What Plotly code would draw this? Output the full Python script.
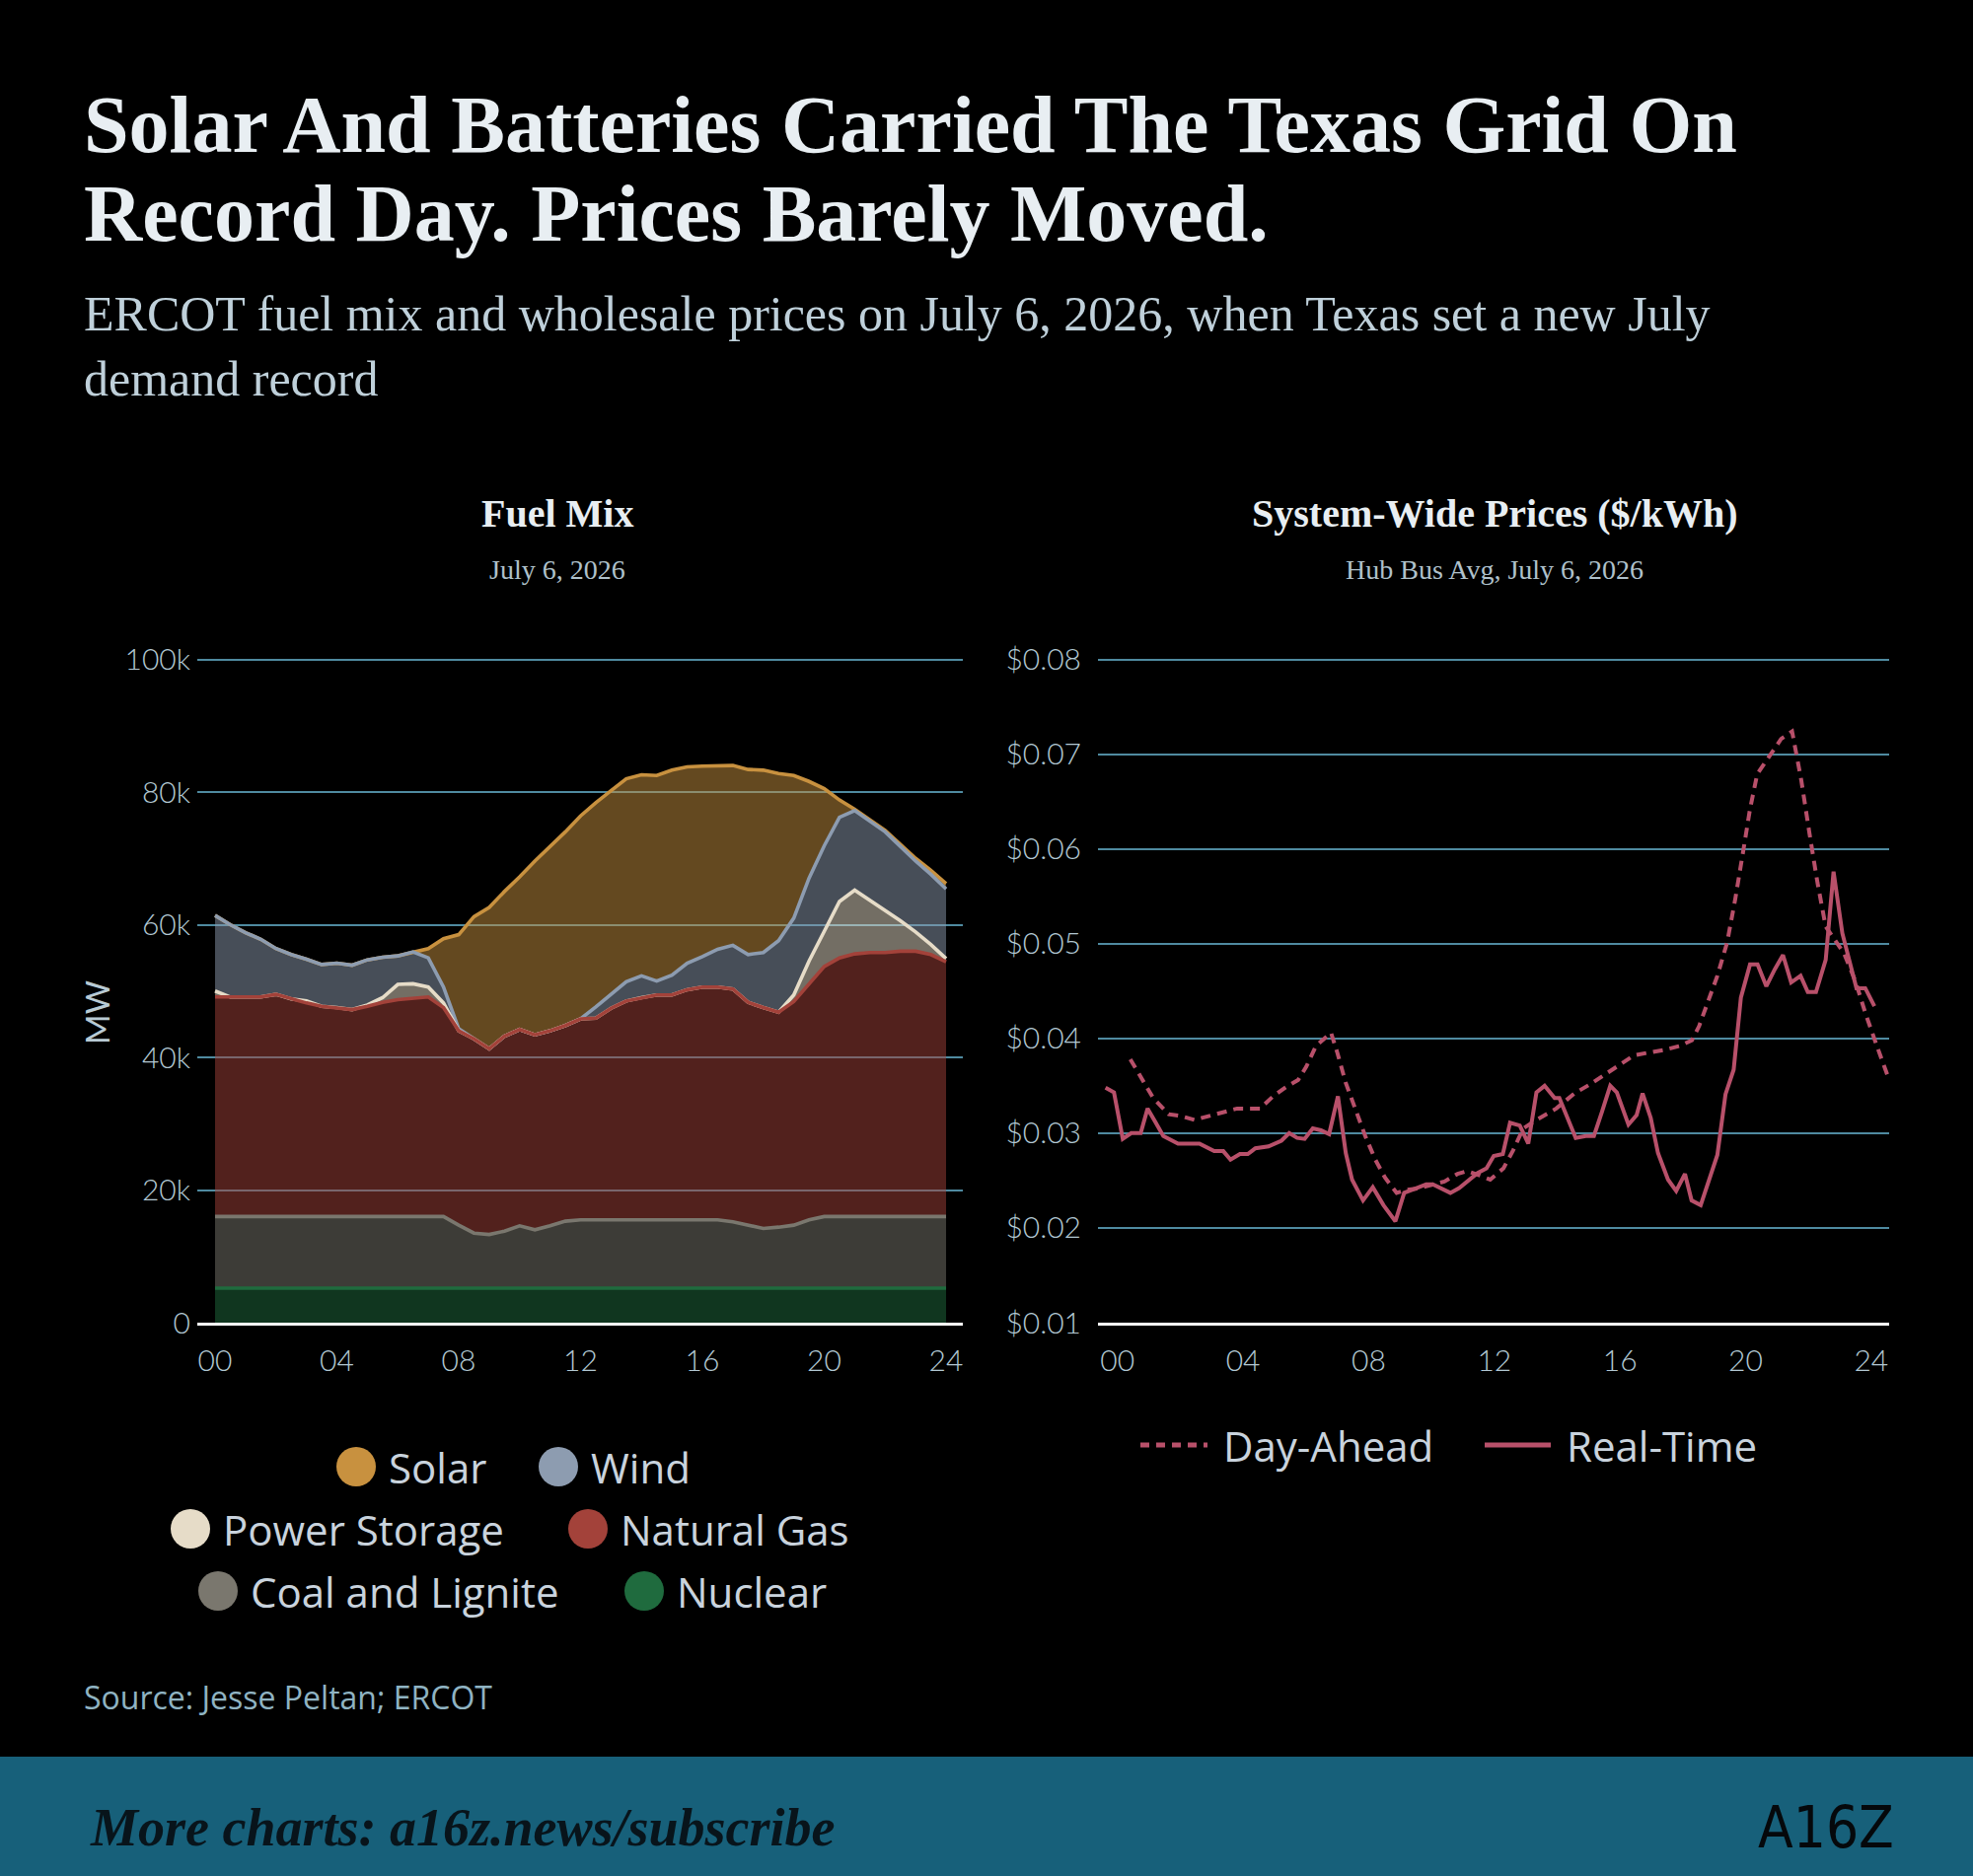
"""ERCOT fuel mix and system-wide prices on the July 2026 demand record day."""

import numpy as np
import plotly.graph_objects as go

WIDTH = 2000
HEIGHT = 1902

BACKGROUND = "#000000"
BANNER = "#17607A"
GRID = "#4F8AA0"
TEXT_LIGHT = "#E8EEF2"
TEXT_MUTED = "#BFD0DA"
TICK_TEXT = "#B2C8D3"
LEGEND_TEXT = "#C9D3DD"
PRICE_COLOR = "#B8506A"

SERIF = "Liberation Serif, Times New Roman, serif"
SANS = "Lato, Open Sans, sans-serif"
LEGEND_SANS = "Open Sans, Lato, sans-serif"

# ---------------------------------------------------------------------------
# Fuel mix (MW), half-hour steps 00:00 -> 24:00
# ---------------------------------------------------------------------------
HOURS = [step / 2 for step in range(49)]

NUCLEAR = [
    5200, 5200, 5200, 5200, 5200, 5200, 5200, 5200, 5200, 5200,
    5200, 5200, 5200, 5200, 5200, 5200, 5200, 5200, 5200, 5200,
    5200, 5200, 5200, 5200, 5200, 5200, 5200, 5200, 5200, 5200,
    5200, 5200, 5200, 5200, 5200, 5200, 5200, 5200, 5200, 5200,
    5200, 5200, 5200, 5200, 5200, 5200, 5200, 5200, 5200,
]
COAL = [
    10800, 10800, 10800, 10800, 10800, 10800, 10800, 10800, 10800, 10800,
    10800, 10800, 10800, 10800, 10800, 10800, 9500, 8300, 8100, 8600,
    9400, 8800, 9400, 10100, 10300, 10300, 10300, 10300, 10300, 10300,
    10300, 10300, 10300, 10300, 10000, 9500, 9000, 9200, 9500, 10300,
    10800, 10800, 10800, 10800, 10800, 10800, 10800, 10800, 10800,
]
NATURAL_GAS = [
    33100, 33100, 33100, 33100, 33500, 32800, 32200, 31700, 31500, 31200,
    31700, 32300, 32700, 32900, 33100, 31500, 29300, 29300, 28000, 29400,
    29600, 29400, 29400, 29500, 30300, 30400, 31900, 33000, 33500, 33900,
    33900, 34700, 35100, 35100, 35100, 33600, 33300, 32400, 33700, 35500,
    37700, 39000, 39600, 39800, 39800, 40000, 40000, 39500, 38400,
]
POWER_STORAGE = [
    900, 0, 0, 0, 0, 0, 300, 0, 0, 0,
    200, 700, 2300, 2200, 1500, 700, 0, 0, 0, 0,
    0, 0, 0, 0, 0, 0, 0, 0, 0, 0,
    0, 0, 0, 0, 0, 0, 0, 0, 1000, 3500,
    5300, 8500, 9600, 7900, 6400, 4600, 2900, 1500, 500,
]
WIND = [
    11400, 10900, 9700, 8700, 6900, 6700, 6300, 6300, 6700, 6700,
    6800, 6100, 4300, 4800, 4400, 2400, 300, 0, 0, 0,
    0, 0, 0, 0, 0, 1700, 2100, 2900, 3300, 2100,
    3000, 4000, 4600, 5700, 6600, 7200, 8300, 10800, 11600, 12500,
    12900, 12700, 12000, 11900, 11800, 11200, 10700, 10600, 10500,
]
SOLAR = [
    0, 0, 0, 0, 0, 0, 0, 0, 0, 0,
    0, 0, 0, 0, 1400, 7300, 14200, 18400, 21300, 21800,
    23000, 26200, 27800, 29200, 30600, 30800, 30700, 30600, 30300, 31000,
    30900, 29600, 28700, 27700, 27100, 27900, 27500, 25200, 21500, 14600,
    8600, 2600, 200, 200, 200, 300, 400, 600, 800,
]

MW_TICKS = [0, 20000, 40000, 60000, 80000, 100000]
MW_LABELS = ["0", "20k", "40k", "60k", "80k", "100k"]
HOUR_TICKS = [0, 4, 8, 12, 16, 20, 24]
HOUR_LABELS = ["00", "04", "08", "12", "16", "20", "24"]

# ---------------------------------------------------------------------------
# System-wide prices ($/kWh)
# ---------------------------------------------------------------------------
DAY_AHEAD_HOURS = [
    0.41, 0.67, 1.14, 1.63, 2.03, 2.45, 2.92, 3.44, 3.81, 4.18,
    4.54, 4.96, 5.38, 5.75, 6.01, 6.32, 6.64, 6.80, 7.00, 7.27,
    7.58, 7.89, 8.21, 8.52, 8.89, 9.20, 9.62, 9.99, 10.41, 10.83,
    11.14, 11.56, 11.87, 12.29, 12.60, 12.92, 13.34, 13.97, 14.55, 15.02,
    15.54, 16.02, 16.44, 16.91, 17.43, 17.90, 18.29, 18.52, 18.78, 19.10,
    19.41, 19.67, 19.93, 20.14, 20.37, 20.77, 21.13, 21.48, 21.77, 22.03,
    22.29, 22.55, 22.81, 23.13, 23.50, 23.81, 24.18, 24.55,
]
DAY_AHEAD_PRICE = [
    0.0378, 0.0363, 0.0337, 0.0320, 0.0318, 0.0314, 0.0318, 0.0323, 0.0326, 0.0326,
    0.0326, 0.0339, 0.0349, 0.0356, 0.0370, 0.0392, 0.0402, 0.0406, 0.0385, 0.0353,
    0.0325, 0.0297, 0.0272, 0.0253, 0.0237, 0.0240, 0.0242, 0.0245, 0.0249, 0.0257,
    0.0260, 0.0255, 0.0251, 0.0263, 0.0282, 0.0305, 0.0314, 0.0326, 0.0342, 0.0351,
    0.0362, 0.0372, 0.0382, 0.0385, 0.0388, 0.0392, 0.0398, 0.0413, 0.0437, 0.0466,
    0.0501, 0.0547, 0.0599, 0.0642, 0.0679, 0.0698, 0.0716, 0.0724, 0.0673, 0.0617,
    0.0564, 0.0518, 0.0506, 0.0490, 0.0460, 0.0427, 0.0392, 0.0358,
]
REAL_TIME_HOURS = [
    -0.38, -0.11, 0.17, 0.44, 0.74, 0.96, 1.22, 1.46, 1.93, 2.61,
    3.08, 3.37, 3.60, 3.90, 4.15, 4.39, 4.81, 5.22, 5.47, 5.72,
    5.96, 6.22, 6.48, 6.74, 7.02, 7.27, 7.47, 7.82, 8.13, 8.47,
    8.85, 9.13, 9.52, 9.83, 10.04, 10.30, 10.60, 10.88, 11.19, 11.47,
    11.75, 11.98, 12.27, 12.50, 12.81, 13.08, 13.34, 13.60, 13.92, 14.07,
    14.33, 14.59, 14.91, 15.17, 15.43, 15.69, 15.90, 16.27, 16.53, 16.72,
    16.98, 17.21, 17.53, 17.79, 18.07, 18.28, 18.57, 18.83, 19.10, 19.36,
    19.62, 19.85, 20.14, 20.38, 20.66, 20.93, 21.19, 21.45, 21.75, 21.98,
    22.24, 22.55, 22.80, 23.08, 23.34, 23.53, 23.81, 24.10,
]
REAL_TIME_PRICE = [
    0.0348, 0.0343, 0.0294, 0.0300, 0.0300, 0.0326, 0.0311, 0.0297, 0.0289, 0.0289,
    0.0281, 0.0281, 0.0272, 0.0278, 0.0278, 0.0284, 0.0286, 0.0292, 0.0300, 0.0295,
    0.0294, 0.0305, 0.0303, 0.0299, 0.0339, 0.0279, 0.0251, 0.0229, 0.0243, 0.0224,
    0.0207, 0.0237, 0.0242, 0.0246, 0.0246, 0.0242, 0.0237, 0.0242, 0.0250, 0.0258,
    0.0263, 0.0276, 0.0278, 0.0311, 0.0308, 0.0289, 0.0343, 0.0350, 0.0337, 0.0337,
    0.0316, 0.0295, 0.0297, 0.0297, 0.0323, 0.0350, 0.0343, 0.0309, 0.0319, 0.0342,
    0.0316, 0.0279, 0.0251, 0.0239, 0.0257, 0.0229, 0.0224, 0.0251, 0.0277, 0.0341,
    0.0367, 0.0443, 0.0478, 0.0478, 0.0455, 0.0473, 0.0488, 0.0459, 0.0466, 0.0449,
    0.0449, 0.0483, 0.0576, 0.0511, 0.0476, 0.0453, 0.0453, 0.0434,
]

PRICE_TICKS = [0.01, 0.02, 0.03, 0.04, 0.05, 0.06, 0.07, 0.08]
PRICE_LABELS = ["$0.01", "$0.02", "$0.03", "$0.04", "$0.05", "$0.06", "$0.07", "$0.08"]

# bottom of the stack first
FUELS = [
    ("Nuclear", NUCLEAR, "#1F6B3E"),
    ("Coal and Lignite", COAL, "#7A776E"),
    ("Natural Gas", NATURAL_GAS, "#A3423A"),
    ("Power Storage", POWER_STORAGE, "#E6DCC8"),
    ("Wind", WIND, "#8D9CB0"),
    ("Solar", SOLAR, "#C8913F"),
]


def _hex_to_rgba(color: str, alpha: float) -> str:
    red, green, blue = (int(color[i:i + 2], 16) for i in (1, 3, 5))
    return f"rgba({red},{green},{blue},{alpha})"


def _px(x: float) -> float:
    """Pixel column -> paper x."""
    return x / WIDTH


def _py(y: float) -> float:
    """Pixel row (from top) -> paper y."""
    return (HEIGHT - y) / HEIGHT


def _text(x, y, text, size, color, family=SANS, anchor="left", weight=None, **extra):
    font = {"family": family, "size": size, "color": color}
    if weight is not None:
        font["weight"] = weight
    return {
        "x": _px(x),
        "y": _py(y),
        "xref": "paper",
        "yref": "paper",
        "text": text,
        "showarrow": False,
        "xanchor": anchor,
        "yanchor": "middle",
        "font": font,
        **extra,
    }


fig = go.Figure()

# stacked fills, drawn with half-transparent colour so the grid shows through
for name, values, color in FUELS:
    fig.add_trace(
        go.Scatter(
            x=HOURS,
            y=values,
            name=name,
            stackgroup="mix",
            mode="lines",
            line={"width": 0, "color": color},
            fillcolor=_hex_to_rgba(color, 0.5),
            showlegend=False,
            hoverinfo="skip",
        )
    )

# outline of each layer; lower layers drawn last so they sit on top
tops = np.cumsum(np.array([values for _name, values, _color in FUELS], dtype=float), axis=0)
for idx in reversed(range(len(FUELS))):
    name, _values, color = FUELS[idx]
    fig.add_trace(
        go.Scatter(
            x=HOURS,
            y=tops[idx],
            name=name,
            mode="lines",
            line={"width": 3.6, "color": color},
            showlegend=False,
            hovertemplate="%{y:,.0f} MW<extra>" + name + "</extra>",
        )
    )

fig.add_trace(
    go.Scatter(
        x=DAY_AHEAD_HOURS,
        y=DAY_AHEAD_PRICE,
        name="Day-Ahead",
        mode="lines",
        line={"width": 4, "color": PRICE_COLOR, "dash": "10px,7px"},
        showlegend=False,
        xaxis="x2",
        yaxis="y2",
    )
)
fig.add_trace(
    go.Scatter(
        x=REAL_TIME_HOURS,
        y=REAL_TIME_PRICE,
        name="Real-Time",
        mode="lines",
        line={"width": 4, "color": PRICE_COLOR},
        showlegend=False,
        xaxis="x2",
        yaxis="y2",
    )
)

tick_font = {"family": SANS, "size": 30, "color": TICK_TEXT, "weight": 300}
plot_bottom = _py(1341)
plot_top = _py(661.8)

x_common = {
    "tickvals": HOUR_TICKS,
    "ticktext": HOUR_LABELS,
    "showgrid": False,
    "zeroline": False,
    "showline": True,
    "linecolor": "#FFFFFF",
    "linewidth": 3,
    "ticks": "",
    "ticklabelstandoff": 10,
    "tickfont": tick_font,
    "automargin": False,
    "fixedrange": True,
}
y_common = {
    "showgrid": True,
    "gridcolor": GRID,
    "gridwidth": 2,
    "zeroline": False,
    "showline": False,
    "ticks": "",
    "tickfont": tick_font,
    "domain": [plot_bottom, plot_top],
    "automargin": False,
    "fixedrange": True,
}

# legends are laid out by hand: rows are centred under each panel
annotations = [
    _text(83, 126, "Solar And Batteries Carried The Texas Grid On", 82, TEXT_LIGHT, SERIF, weight="bold"),
    _text(83, 217, "Record Day. Prices Barely Moved.", 82, TEXT_LIGHT, SERIF, weight="bold"),
    _text(83, 318, "ERCOT fuel mix and wholesale prices on July 6, 2026, when Texas set a new July",
          50, TEXT_MUTED, SERIF),
    _text(83, 384, "demand record", 50, TEXT_MUTED, SERIF),
    _text(565, 521, "Fuel Mix", 40, TEXT_LIGHT, SERIF, anchor="center", weight="bold"),
    _text(565, 577, "July 6, 2026", 28, "#AFC1CB", SERIF, anchor="center"),
    _text(1515, 521, "System-Wide Prices ($/kWh)", 40, TEXT_LIGHT, SERIF, anchor="center", weight="bold"),
    _text(1515, 577, "Hub Bus Avg, July 6, 2026", 28, "#AFC1CB", SERIF, anchor="center"),
    _text(98, 1027, "MW", 33, "#B8CAD4", anchor="center", textangle=-90),
    _text(83, 1720, "Source: Jesse Peltan; ERCOT", 32, "#8FB3C2", LEGEND_SANS),
    _text(89, 1853, "<b><i>More charts: a16z.news/subscribe</i></b>", 54, "#08141B", SERIF),
    _text(1922, 1853, "A16Z", 58, "#05080B",
          "Liberation Sans Narrow, DejaVu Sans Condensed, sans-serif", anchor="right"),
]

legend_slots = [
    ("Solar", 361, 1487),
    ("Wind", 566, 1487),
    ("Power Storage", 193, 1550),
    ("Natural Gas", 596, 1550),
    ("Coal and Lignite", 221, 1613),
    ("Nuclear", 653, 1613),
]
fuel_colors = {name: color for name, _values, color in FUELS}

shapes = [
    {
        "type": "rect",
        "xref": "paper",
        "yref": "paper",
        "x0": 0,
        "x1": 1,
        "y0": 0,
        "y1": _py(1781),
        "fillcolor": BANNER,
        "line": {"width": 0},
        "layer": "below",
    }
]
for name, cx, cy in legend_slots:
    shapes.append(
        {
            "type": "circle",
            "xref": "paper",
            "yref": "paper",
            "xsizemode": "pixel",
            "ysizemode": "pixel",
            "xanchor": _px(cx),
            "yanchor": _py(cy),
            "x0": -20,
            "x1": 20,
            "y0": -20,
            "y1": 20,
            "fillcolor": fuel_colors[name],
            "line": {"width": 0},
        }
    )
    annotations.append(_text(cx + 31, cy, name, 42, LEGEND_TEXT, LEGEND_SANS))

for name, x0, x1, dash in [("Day-Ahead", 1156, 1224, "9px,7px"), ("Real-Time", 1505, 1572, "solid")]:
    shapes.append(
        {
            "type": "line",
            "xref": "paper",
            "yref": "paper",
            "x0": _px(x0),
            "x1": _px(x1),
            "y0": _py(1465),
            "y1": _py(1465),
            "line": {"color": PRICE_COLOR, "width": 5, "dash": dash},
        }
    )
    annotations.append(_text(x1 + 14, 1465, name, 42, LEGEND_TEXT, LEGEND_SANS))

fig.update_layout(
    width=WIDTH,
    height=HEIGHT,
    margin={"t": 0, "r": 0, "b": 0, "l": 0, "pad": 0, "autoexpand": False},
    paper_bgcolor=BACKGROUND,
    plot_bgcolor=BACKGROUND,
    showlegend=False,
    xaxis={**x_common, "domain": [_px(200), _px(976)], "range": [-0.583, 24.55], "anchor": "y"},
    yaxis={
        **y_common,
        "range": [0, 101000],
        "tickvals": MW_TICKS,
        "ticktext": MW_LABELS,
        "ticklabelstandoff": 6,
        "anchor": "x",
    },
    xaxis2={**x_common, "domain": [_px(1113), _px(1915)], "range": [-0.62, 24.57], "anchor": "y2"},
    yaxis2={
        **y_common,
        "range": [0.01, 0.0807],
        "tickvals": PRICE_TICKS,
        "ticktext": PRICE_LABELS,
        "ticklabelstandoff": 16,
        "anchor": "x2",
    },
    annotations=annotations,
    shapes=shapes,
)

# drop the browser's default page margin so the figure fills the window exactly
page_fix = (
    "document.documentElement.style.margin='0';"
    "document.body.style.margin='0';"
    "document.body.style.background='#000';"
)
fig.write_html("out.html", config={"displayModeBar": False}, post_script=page_fix)
